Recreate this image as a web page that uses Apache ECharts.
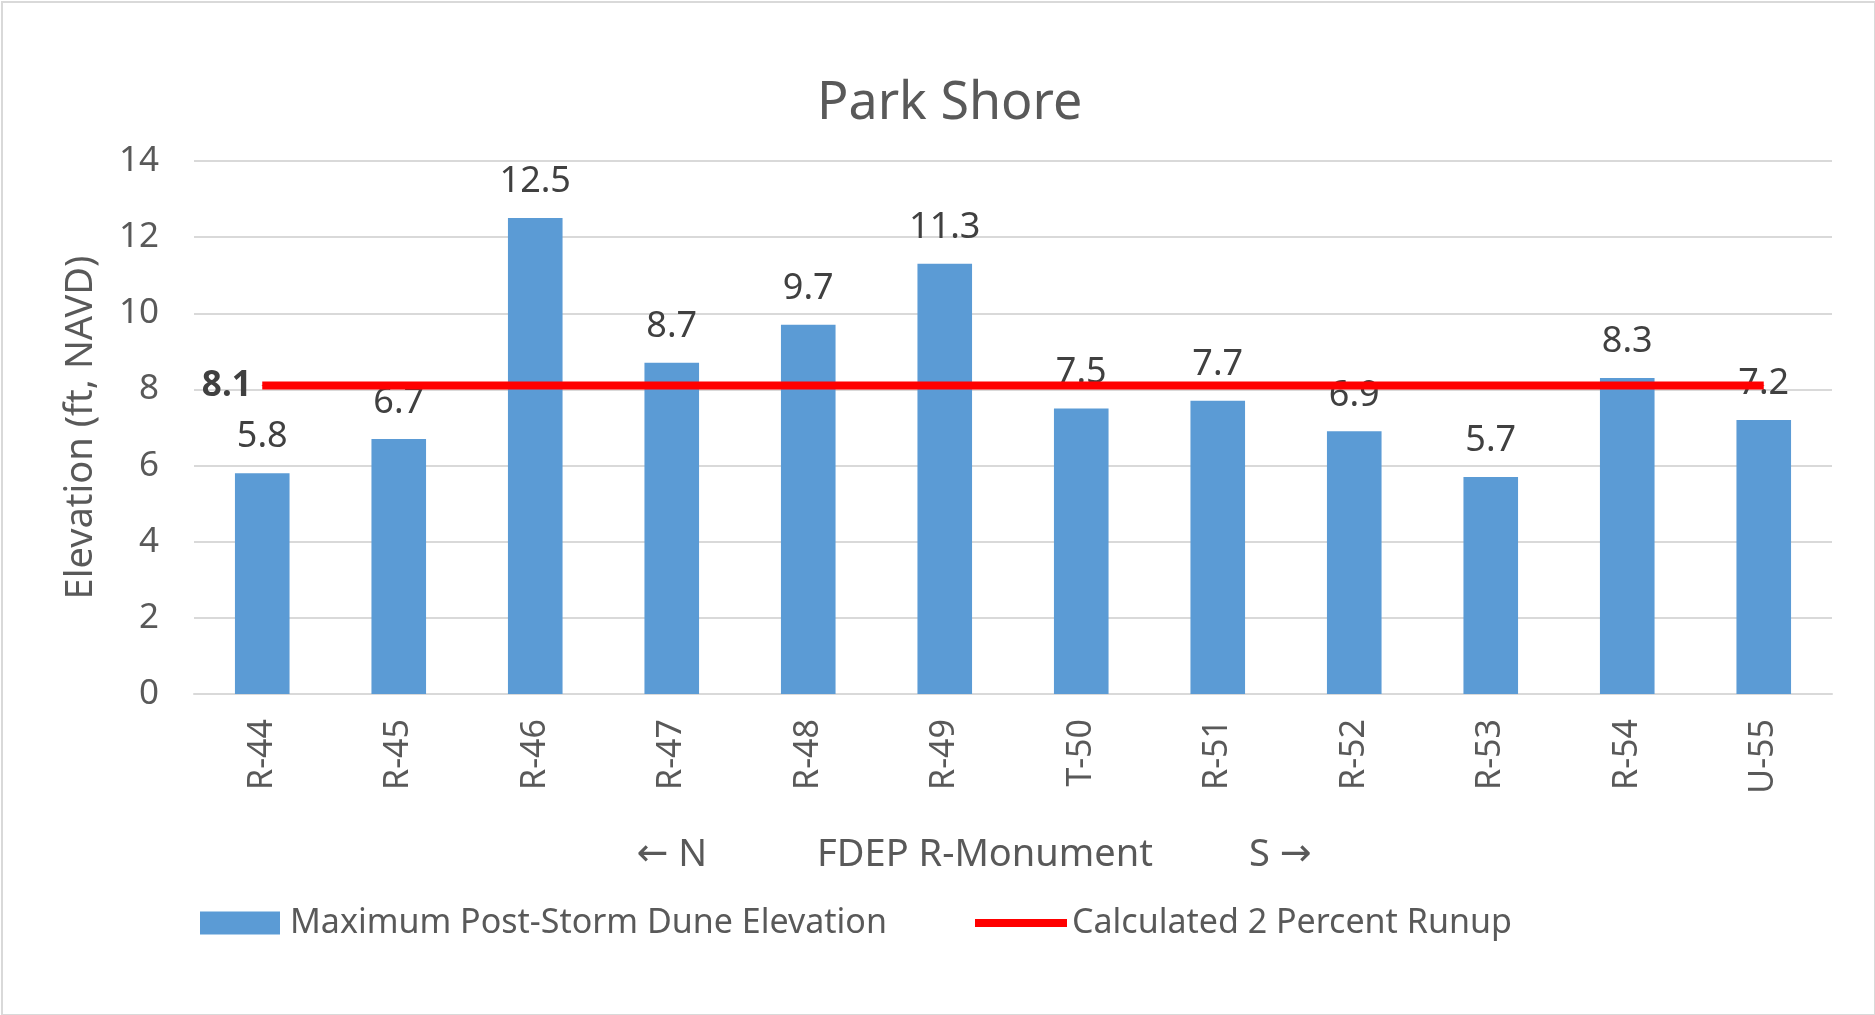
<!DOCTYPE html>
<html>
<head>
<meta charset="utf-8">
<title>Park Shore</title>
<script src="https://cdn.jsdelivr.net/npm/echarts@6/dist/echarts.min.js"></script>
<style>
  html, body { margin: 0; padding: 0; background: #fff; }
  #chart { position: absolute; left: 0; top: 0; width: 1875px; height: 1015px; }
  #frame { position: absolute; left: 1px; top: 1px; width: 1871px; height: 1011px; border: 2px solid #d9d9d9; pointer-events: none; }
</style>
</head>
<body>
<div id="chart"></div>
<div id="frame"></div>
<script>
const monuments = ["R-44", "R-45", "R-46", "R-47", "R-48", "R-49", "T-50", "R-51", "R-52", "R-53", "R-54", "U-55"];
const duneElevation = [5.8, 6.7, 12.5, 8.7, 9.7, 11.3, 7.5, 7.7, 6.9, 5.7, 8.3, 7.2];
const runup = [8.1, 8.1, 8.1, 8.1, 8.1, 8.1, 8.1, 8.1, 8.1, 8.1, 8.1, 8.1];
const yTicks = [0, 14, 2]; // min, max, step

const font = "Noto Sans";
const grey = "#595959";
const barName = "Maximum Post-Storm Dune Elevation";
const lineName = "Calculated 2 Percent Runup";

const chart = echarts.init(document.getElementById("chart"));

chart.setOption({
  backgroundColor: "#fff",
  animation: false,
  title: {
    text: "Park Shore",
    left: 812,
    top: 73,
    textStyle: { fontFamily: font, fontSize: 52, fontWeight: "normal", color: grey }
  },
  legend: [
    {
      left: 195,
      top: 901,
      icon: "rect",
      itemWidth: 80,
      itemHeight: 23,
      textStyle: { fontFamily: font, fontSize: 34, color: grey, padding: [0, 0, 0, 5] },
      data: [barName]
    },
    {
      left: 970,
      top: 901,
      icon: "rect",
      itemWidth: 92,
      itemHeight: 8,
      textStyle: { fontFamily: font, fontSize: 34, color: grey },
      data: [lineName]
    }
  ],
  grid: {
    left: 194,
    right: 43,
    top: 161,
    bottom: 321
  },
  xAxis: {
    type: "category",
    data: monuments,
    name: "{ar|←} N{g1|}FDEP R-Monument{g2|}S {ar|→}",
    nameLocation: "middle",
    nameGap: 142,
    nameTextStyle: {
      fontFamily: font,
      fontSize: 38,
      color: grey,
      padding: [0, 78, 0, 0],
      rich: {
        ar: { fontFamily: "DejaVu Sans", fontSize: 38, color: grey },
        g1: { width: 110 },
        g2: { width: 96 }
      }
    },
    axisLine: { lineStyle: { color: "#d9d9d9", width: 2 } },
    axisTick: { show: false },
    axisLabel: {
      interval: 0,
      rotate: 90,
      margin: 25,
      fontFamily: font,
      fontSize: 34,
      color: grey
    }
  },
  yAxis: {
    type: "value",
    min: yTicks[0],
    max: yTicks[1],
    interval: yTicks[2],
    name: "Elevation (ft, NAVD)",
    nameLocation: "middle",
    nameGap: 94,
    nameTextStyle: { fontFamily: font, fontSize: 38, color: grey },
    axisLine: { show: false },
    axisTick: { show: false },
    axisLabel: { margin: 35, fontFamily: font, fontSize: 35, color: grey },
    splitLine: { lineStyle: { color: "#d9d9d9", width: 2 } }
  },
  series: [
    {
      name: barName,
      type: "bar",
      data: duneElevation,
      barCategoryGap: "60%",
      itemStyle: { color: "#5b9bd5" },
      label: {
        show: true,
        position: "top",
        distance: 18,
        fontFamily: font,
        fontSize: 36,
        color: "#404040"
      }
    },
    {
      name: lineName,
      type: "line",
      z: 5,
      symbol: "circle",
      symbolSize: 1,
      data: runup.map((v, i) => ({
        value: v,
        label: {
          show: i === 0,
          position: "left",
          distance: 10,
          fontFamily: font,
          fontSize: 35,
          fontWeight: "bold",
          color: "#404040"
        }
      })),
      lineStyle: { color: "#ff0000", width: 8 },
      itemStyle: { color: "#ff0000" }
    }
  ]
});
</script>
</body>
</html>
